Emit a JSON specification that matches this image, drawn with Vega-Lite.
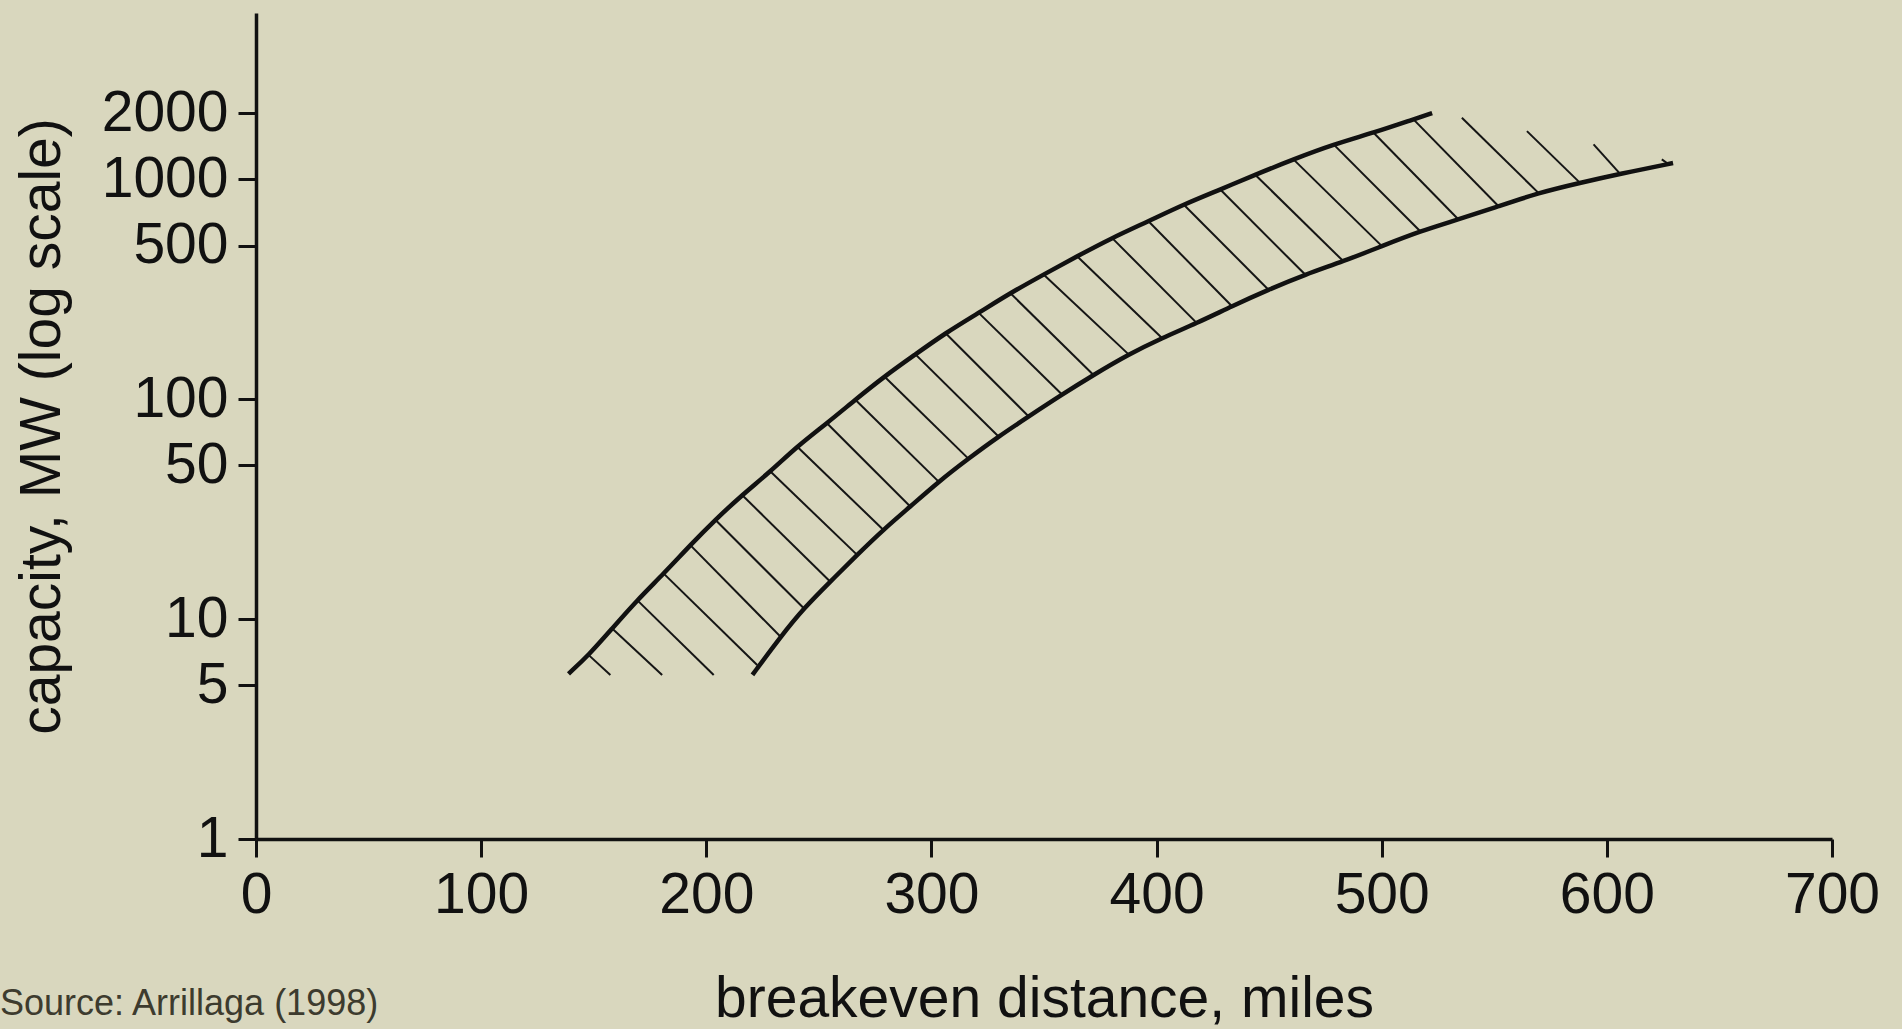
{
  "$schema": "https://vega.github.io/schema/vega-lite/v6.json",
  "width": 1576,
  "height": 826,
  "autosize": {"type": "none"},
  "padding": {"left": 256, "top": 13, "right": 70, "bottom": 190},
  "background": "#d9d7be",
  "config": {
    "view": {"stroke": null},
    "font": "Liberation Sans",
    "axis": {
      "grid": false,
      "domainColor": "#111111",
      "domainWidth": 3.5,
      "tickColor": "#111111",
      "tickWidth": 3,
      "tickSize": 18,
      "labelColor": "#111111",
      "labelFont": "Liberation Sans",
      "labelFontSize": 57,
      "labelPadding": 10,
      "titleColor": "#111111",
      "titleFont": "Liberation Sans",
      "titleFontSize": 57,
      "titleFontWeight": "normal"
    }
  },
  "title": {
    "text": "Source: Arrillaga (1998)",
    "orient": "bottom",
    "anchor": "start",
    "frame": "group",
    "dx": -256,
    "offset": -40,
    "font": "Liberation Sans",
    "fontSize": 36,
    "fontWeight": "normal",
    "color": "#3d3b2e"
  },
  "datasets": {
    "curves": [
      {"curve": "left", "distance": 138.8, "capacity": 5.64},
      {"curve": "left", "distance": 147.8, "capacity": 6.86},
      {"curve": "left", "distance": 158.2, "capacity": 9.07},
      {"curve": "left", "distance": 169.3, "capacity": 12.2},
      {"curve": "left", "distance": 181.1, "capacity": 16.1},
      {"curve": "left", "distance": 192.9, "capacity": 21.7},
      {"curve": "left", "distance": 204.0, "capacity": 28.3},
      {"curve": "left", "distance": 215.9, "capacity": 36.7},
      {"curve": "left", "distance": 228.5, "capacity": 46.9},
      {"curve": "left", "distance": 240.3, "capacity": 61.0},
      {"curve": "left", "distance": 253.6, "capacity": 77.8},
      {"curve": "left", "distance": 266.2, "capacity": 99.5},
      {"curve": "left", "distance": 279.1, "capacity": 127},
      {"curve": "left", "distance": 292.9, "capacity": 160},
      {"curve": "left", "distance": 306.2, "capacity": 200},
      {"curve": "left", "distance": 321.0, "capacity": 247},
      {"curve": "left", "distance": 335.0, "capacity": 304},
      {"curve": "left", "distance": 349.8, "capacity": 369},
      {"curve": "left", "distance": 364.7, "capacity": 447},
      {"curve": "left", "distance": 380.2, "capacity": 542},
      {"curve": "left", "distance": 396.4, "capacity": 645},
      {"curve": "left", "distance": 412.0, "capacity": 769},
      {"curve": "left", "distance": 428.3, "capacity": 899},
      {"curve": "left", "distance": 443.8, "capacity": 1050},
      {"curve": "left", "distance": 460.8, "capacity": 1233},
      {"curve": "left", "distance": 478.6, "capacity": 1442},
      {"curve": "left", "distance": 496.4, "capacity": 1629},
      {"curve": "left", "distance": 514.1, "capacity": 1875},
      {"curve": "left", "distance": 522.4, "capacity": 2001},
      {"curve": "right", "distance": 220.5, "capacity": 5.58},
      {"curve": "right", "distance": 233.0, "capacity": 8.31},
      {"curve": "right", "distance": 243.3, "capacity": 11.2},
      {"curve": "right", "distance": 255.1, "capacity": 14.8},
      {"curve": "right", "distance": 267.0, "capacity": 19.6},
      {"curve": "right", "distance": 278.6, "capacity": 25.5},
      {"curve": "right", "distance": 290.6, "capacity": 32.5},
      {"curve": "right", "distance": 303.2, "capacity": 42.2},
      {"curve": "right", "distance": 316.4, "capacity": 53.7},
      {"curve": "right", "distance": 329.8, "capacity": 67.7},
      {"curve": "right", "distance": 343.2, "capacity": 83.5},
      {"curve": "right", "distance": 358.0, "capacity": 105},
      {"curve": "right", "distance": 372.0, "capacity": 129},
      {"curve": "right", "distance": 387.6, "capacity": 160},
      {"curve": "right", "distance": 402.4, "capacity": 190},
      {"curve": "right", "distance": 417.9, "capacity": 222},
      {"curve": "right", "distance": 433.5, "capacity": 265},
      {"curve": "right", "distance": 449.7, "capacity": 315},
      {"curve": "right", "distance": 466.0, "capacity": 369},
      {"curve": "right", "distance": 483.0, "capacity": 424},
      {"curve": "right", "distance": 500.1, "capacity": 497},
      {"curve": "right", "distance": 517.1, "capacity": 581},
      {"curve": "right", "distance": 534.1, "capacity": 657},
      {"curve": "right", "distance": 551.9, "capacity": 755},
      {"curve": "right", "distance": 569.6, "capacity": 868},
      {"curve": "right", "distance": 588.1, "capacity": 964},
      {"curve": "right", "distance": 605.9, "capacity": 1060},
      {"curve": "right", "distance": 629.4, "capacity": 1186}
    ],
    "hatch": [
      {"d1": 147.8, "c1": 6.86, "d2": 157.4, "c2": 5.57},
      {"d1": 158.2, "c1": 9.07, "d2": 180.4, "c2": 5.57},
      {"d1": 169.3, "c1": 12.2, "d2": 203.3, "c2": 5.57},
      {"d1": 181.1, "c1": 16.1, "d2": 222.6, "c2": 6.18},
      {"d1": 192.9, "c1": 21.7, "d2": 233.0, "c2": 8.31},
      {"d1": 204.0, "c1": 28.3, "d2": 243.3, "c2": 11.2},
      {"d1": 215.9, "c1": 36.7, "d2": 255.1, "c2": 14.8},
      {"d1": 228.5, "c1": 46.9, "d2": 267.0, "c2": 19.6},
      {"d1": 240.3, "c1": 61.0, "d2": 278.6, "c2": 25.5},
      {"d1": 253.6, "c1": 77.8, "d2": 290.6, "c2": 32.5},
      {"d1": 266.2, "c1": 99.5, "d2": 303.2, "c2": 42.2},
      {"d1": 279.1, "c1": 127, "d2": 316.4, "c2": 53.7},
      {"d1": 292.9, "c1": 160, "d2": 329.8, "c2": 67.7},
      {"d1": 306.2, "c1": 200, "d2": 343.2, "c2": 83.5},
      {"d1": 321.0, "c1": 247, "d2": 358.0, "c2": 105},
      {"d1": 335.0, "c1": 304, "d2": 372.0, "c2": 129},
      {"d1": 349.8, "c1": 369, "d2": 387.6, "c2": 160},
      {"d1": 364.7, "c1": 447, "d2": 402.4, "c2": 190},
      {"d1": 380.2, "c1": 542, "d2": 417.9, "c2": 222},
      {"d1": 396.4, "c1": 645, "d2": 433.5, "c2": 265},
      {"d1": 412.0, "c1": 769, "d2": 449.7, "c2": 315},
      {"d1": 428.3, "c1": 899, "d2": 466.0, "c2": 369},
      {"d1": 443.8, "c1": 1050, "d2": 483.0, "c2": 424},
      {"d1": 460.8, "c1": 1233, "d2": 500.1, "c2": 497},
      {"d1": 478.6, "c1": 1442, "d2": 517.1, "c2": 581},
      {"d1": 496.4, "c1": 1629, "d2": 534.1, "c2": 657},
      {"d1": 514.1, "c1": 1875, "d2": 551.9, "c2": 755},
      {"d1": 535.6, "c1": 1905, "d2": 569.6, "c2": 868},
      {"d1": 564.5, "c1": 1657, "d2": 588.1, "c2": 964},
      {"d1": 594.1, "c1": 1442, "d2": 605.9, "c2": 1060},
      {"d1": 624.4, "c1": 1233, "d2": 627.0, "c2": 1180}
    ]
  },
  "layer": [
    {
      "data": {"name": "hatch"},
      "mark": {"type": "rule", "color": "#151515", "strokeWidth": 2},
      "encoding": {
        "x": {
          "field": "d1", "type": "quantitative",
          "scale": {"domain": [0, 700], "nice": false, "zero": false},
          "axis": {
            "values": [0, 100, 200, 300, 400, 500, 600, 700],
            "title": "breakeven distance, miles",
            "titlePadding": 48,
            "labelFlush": false
          }
        },
        "y": {
          "field": "c1", "type": "quantitative",
          "scale": {"type": "log", "domain": [1, 5710], "nice": false, "zero": false},
          "axis": {
            "values": [1, 5, 10, 50, 100, 500, 1000, 2000],
            "format": "d",
            "title": "capacity, MW (log scale)",
            "titlePadding": 30,
            "labelFlush": false
          }
        },
        "x2": {"field": "d2"},
        "y2": {"field": "c2"}
      }
    },
    {
      "data": {"name": "curves"},
      "mark": {"type": "line", "color": "#111111", "strokeWidth": 4.5, "interpolate": "basis"},
      "encoding": {
        "x": {"field": "distance", "type": "quantitative"},
        "y": {"field": "capacity", "type": "quantitative"},
        "detail": {"field": "curve", "type": "nominal"}
      }
    }
  ]
}
